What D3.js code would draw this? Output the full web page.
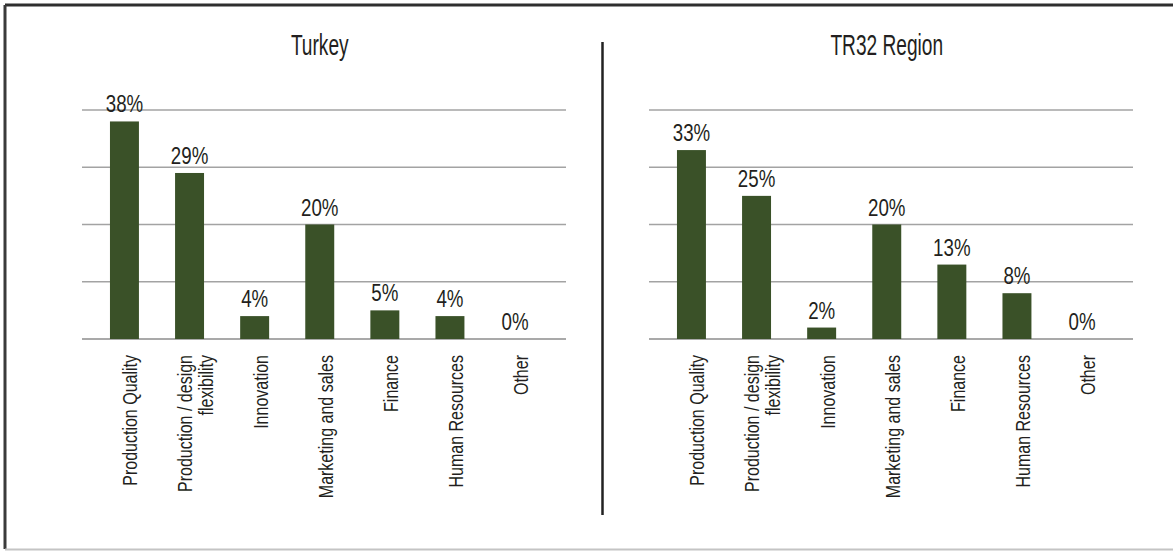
<!DOCTYPE html>
<html>
<head>
<meta charset="utf-8">
<script src="https://cdn.jsdelivr.net/npm/d3@7"></script>
<style>
  html, body { margin: 0; padding: 0; background: #fff; }
  svg text { font-family: "Liberation Sans", Arial, sans-serif; fill: #231f20; }
</style>
</head>
<body>
<svg id="chart" width="1173" height="551"></svg>
<script>
// Advantage areas of firms, share of respondents (%)
const categories = [
  "Production Quality",
  "Production / design\nflexibility",
  "Innovation",
  "Marketing and sales",
  "Finance",
  "Human Resources",
  "Other"
];
const turkeyValues = [38, 29, 4, 20, 5, 4, 0];
const tr32Values = [33, 25, 2, 20, 13, 8, 0];
const panelTitles = ["Turkey", "TR32 Region"];
const gridTicks = [0, 10, 20, 30, 40];

const svg = d3.select("#chart");
const barColor = "#3a5128";

// outer frame
svg.append("line").attr("x1", 5).attr("x2", 1173).attr("y1", 5).attr("y2", 5)
  .attr("stroke", "#2e2e2e").attr("stroke-width", 3);
svg.append("line").attr("x1", 5).attr("x2", 5).attr("y1", 5).attr("y2", 549)
  .attr("stroke", "#3a3a3a").attr("stroke-width", 3);
svg.append("line").attr("x1", 5).attr("x2", 1173).attr("y1", 549.5).attr("y2", 549.5)
  .attr("stroke", "#c4c4c4").attr("stroke-width", 2);

// divider between the two panels
svg.append("line").attr("x1", 602.5).attr("x2", 602.5).attr("y1", 42).attr("y2", 515)
  .attr("stroke", "#222").attr("stroke-width", 2.5);

const y = d3.scaleLinear().domain([0, 40]).range([339, 110]);

const panels = [
  { title: panelTitles[0], values: turkeyValues, grid: [82, 566], band: [91.9, 547.6] },
  { title: panelTitles[1], values: tr32Values, grid: [649, 1133], band: [658.9, 1114.6] }
];

panels.forEach(p => {
  const g = svg.append("g");
  const x = d3.scaleBand().domain(categories).range(p.band)
    .paddingInner(0.555).paddingOuter(0.2775);

  // horizontal gridlines
  g.selectAll("line.grid").data(gridTicks).join("line")
    .attr("class", "grid")
    .attr("x1", p.grid[0]).attr("x2", p.grid[1])
    .attr("y1", d => y(d)).attr("y2", d => y(d))
    .attr("stroke", d => d === 0 ? "#8c8c8c" : "#a3a3a3")
    .attr("stroke-width", 1.5);

  // bars
  g.selectAll("rect.bar").data(p.values).join("rect")
    .attr("class", "bar")
    .attr("x", (d, i) => x(categories[i]))
    .attr("width", x.bandwidth())
    .attr("y", d => y(d))
    .attr("height", d => y(0) - y(d))
    .attr("fill", barColor);

  // value labels (narrowed type)
  g.selectAll("text.val").data(p.values).join("text")
    .attr("class", "val")
    .attr("transform", (d, i) =>
      `translate(${x(categories[i]) + x.bandwidth() / 2},${y(d) - 9}) scale(0.78,1)`)
    .attr("text-anchor", "middle")
    .attr("font-size", 24)
    .text(d => d + "%");

  // panel title
  const cx = (p.band[0] + p.band[1]) / 2;
  svg.append("text")
    .attr("transform", `translate(${cx},54.5) scale(0.66,1)`)
    .attr("text-anchor", "middle")
    .attr("font-size", 29)
    .text(p.title);

  // rotated category labels
  const lbl = g.selectAll("g.cat").data(categories).join("g")
    .attr("class", "cat")
    .attr("transform", d => `translate(${x(d) + x.bandwidth() / 2 + 6},355) rotate(-90) scale(0.8,1)`);
  lbl.each(function (d) {
    const lines = d.split("\n");
    const t = d3.select(this).append("text")
      .attr("text-anchor", "end")
      .attr("font-size", 20);
    lines.forEach((line, k) => {
      t.append("tspan")
        .attr("x", 0)
        .attr("y", (k - (lines.length - 1) / 2) * 21)
        .attr("dy", "0.35em")
        .text(line);
    });
  });
});
</script>
</body>
</html>
